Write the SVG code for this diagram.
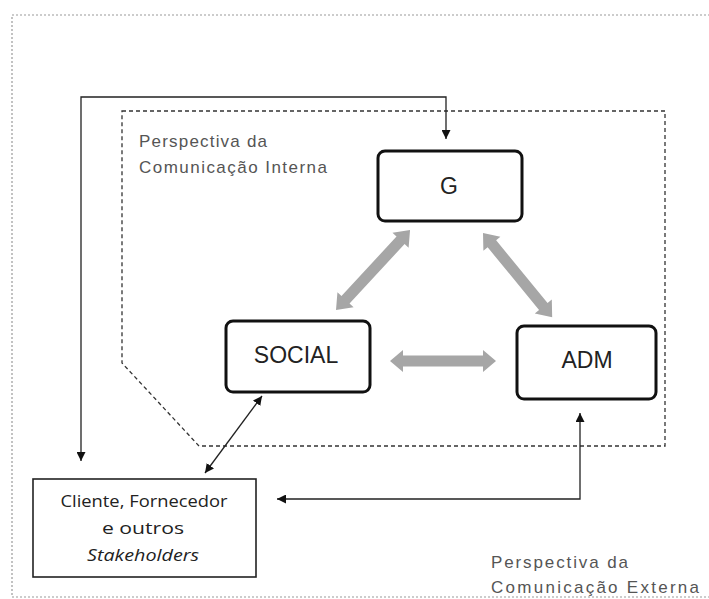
<svg xmlns="http://www.w3.org/2000/svg" width="709" height="599" viewBox="0 0 709 599">
<defs>
<style>
.node{fill:#fff;stroke:#111;stroke-width:3}
.nlabel{font-family:"Liberation Sans",Arial,sans-serif;font-size:23px;fill:#222;text-anchor:middle}
.persp{font-family:"Liberation Sans",Arial,sans-serif;font-size:17px;fill:#555}
.client{font-family:"Open Sans","Noto Sans",sans-serif;font-size:17px;fill:#222;text-anchor:middle}
.thin{fill:none;stroke:#222;stroke-width:1.3}
.big{fill:#a6a6a6}
</style>
<marker id="ah" viewBox="0 0 10 10" refX="10" refY="5" markerWidth="9" markerHeight="9" markerUnits="userSpaceOnUse" orient="auto-start-reverse">
<path d="M0,0 L10,5 L0,10 z" fill="#111"/>
</marker>
</defs>
<rect x="0" y="0" width="709" height="599" fill="#fff"/>
<g id="frames">
<rect x="12" y="15" width="710" height="582" fill="none" stroke="#9a9a9a" stroke-width="1.2" stroke-dasharray="2,2"/>
<path d="M122,111 L665,111 L665,446 L199,446 L122,363 Z" fill="none" stroke="#333" stroke-width="1.3" stroke-dasharray="4,3"/>
</g>
<g id="connectors">
<path class="thin" d="M81,461 L81,97 L446,97 L446,139" marker-start="url(#ah)" marker-end="url(#ah)"/>
<path class="thin" d="M205,473 L262,396" marker-start="url(#ah)" marker-end="url(#ah)"/>
<path class="thin" d="M580,413 L580,499 L277,499" marker-start="url(#ah)" marker-end="url(#ah)"/>
<g transform="translate(336,310) rotate(-47.2)"><polygon class="big" points="0,0 14,-11 14,-5.5 95,-5.5 95,-11 109,0 95,11 95,5.5 14,5.5 14,11"/></g>
<g transform="translate(483,233) rotate(50.6)"><polygon class="big" points="0,0 14,-11 14,-5.5 95,-5.5 95,-11 109,0 95,11 95,5.5 14,5.5 14,11"/></g>
<g transform="translate(390,361)"><polygon class="big" points="0,0 13,-11 13,-5.5 93,-5.5 93,-11 106,0 93,11 93,5.5 13,5.5 13,11"/></g>
</g>
<g id="node-G">
<rect class="node" x="378" y="151" width="144" height="70" rx="7"/>
<text class="nlabel" x="449" y="194">G</text>
</g>
<g id="node-SOCIAL">
<rect class="node" x="226" y="321" width="144" height="71" rx="7"/>
<text class="nlabel" x="296" y="363">SOCIAL</text>
</g>
<g id="node-ADM">
<rect class="node" x="517" y="326" width="139" height="73" rx="7"/>
<text class="nlabel" x="587" y="368">ADM</text>
</g>
<g id="node-client">
<rect x="33" y="479" width="223" height="98" fill="#fff" stroke="#222" stroke-width="1.6"/>
<text class="client" x="144" y="507" textLength="167" lengthAdjust="spacingAndGlyphs">Cliente, Fornecedor</text>
<text class="client" x="143" y="534" textLength="82" lengthAdjust="spacingAndGlyphs">e outros</text>
<text class="client" x="143" y="561" font-style="italic" textLength="112" lengthAdjust="spacingAndGlyphs">Stakeholders</text>
</g>
<g id="label-interna">
<text class="persp" x="139" y="147" textLength="128" lengthAdjust="spacing">Perspectiva da</text>
<text class="persp" x="139" y="173" textLength="188" lengthAdjust="spacing">Comunicação Interna</text>
</g>
<g id="label-externa">
<text class="persp" x="491" y="568" textLength="137" lengthAdjust="spacing">Perspectiva da</text>
<text class="persp" x="491" y="593" textLength="208" lengthAdjust="spacing">Comunicação Externa</text>
</g>
</svg>
